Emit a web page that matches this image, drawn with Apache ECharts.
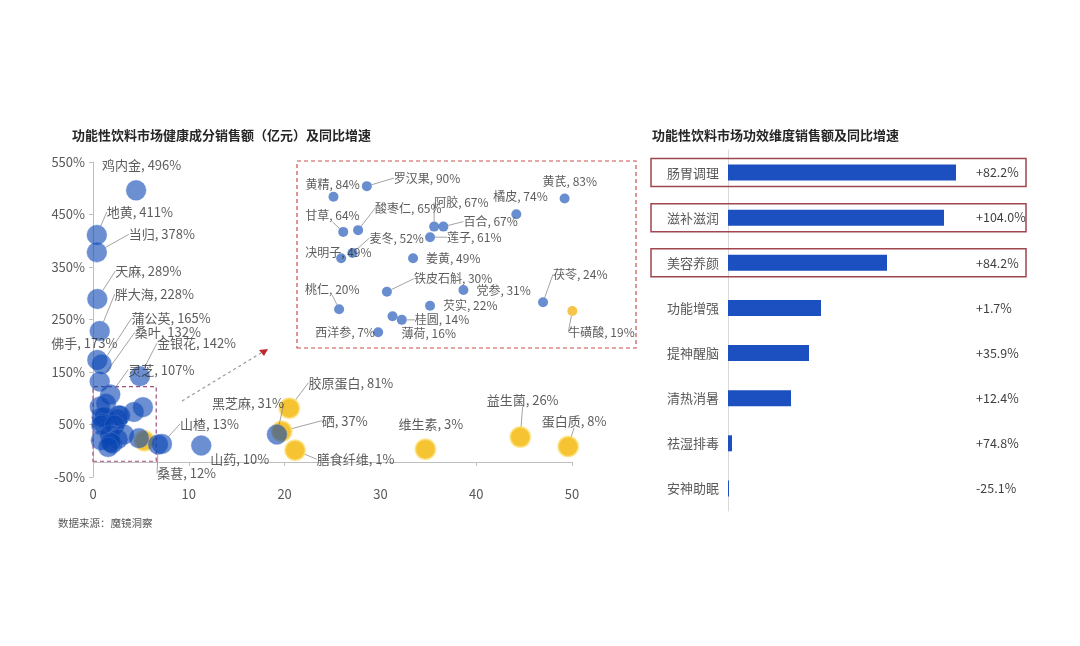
<!DOCTYPE html>
<html><head><meta charset="utf-8">
<script src="https://cdn.jsdelivr.net/npm/echarts@6/dist/echarts.min.js"></script>
<style>html,body{margin:0;padding:0;background:#fff}#c{width:1080px;height:646px}</style>
</head><body><div id="c"></div>
<script>
// ---------------- data ----------------
const herbNames  = ['鸡内金','地黄','当归','天麻','胖大海','佛手','蒲公英','桑叶','金银花','灵芝','山楂','桑葚','山药','黑芝麻',
  '黄精','罗汉果','黄芪','橘皮','甘草','酸枣仁','阿胶','百合','莲子','麦冬','决明子','姜黄','桃仁','铁皮石斛','党参','芡实','桂圆','薄荷','西洋参','茯苓'];
const herbSales  = [4.5,0.4,0.4,0.45,0.7,0.45,0.9,0.7,4.9,1.8,7.2,6.8,11.3,19.2,
  0.71,1.36,5.21,4.27,0.90,1.19,2.67,2.85,2.59,1.08,0.86,2.26,0.82,1.75,3.24,2.59,2.04,1.86,1.58,4.79];
const herbGrowth = [496,411,378,289,228,173,165,132,142,107,13,12,10,31,
  84,90,83,74,64,65,67,67,61,52,49,49,20,30,31,22,14,16,7,24];

const nutrientNames  = ['胶原蛋白','硒','膳食纤维','维生素','益生菌','蛋白质','牛磺酸'];
const nutrientSales  = [20.5,19.7,21.1,34.7,44.6,49.6,5.36];
const nutrientGrowth = [81,37,1,3,26,8,19];

// items shown enlarged in the dashed inset
const insetNames = ['黄精','罗汉果','黄芪','橘皮','甘草','酸枣仁','阿胶','百合','莲子','麦冬','决明子','姜黄','桃仁','铁皮石斛','党参','芡实','桂圆','薄荷','西洋参','茯苓','牛磺酸'];

const effectCategories = ['肠胃调理','滋补滋润','美容养颜','功能增强','提神醒脑','清热消暑','祛湿排毒','安神助眠'];
const effectSales  = [22.8,21.6,15.9,9.3,8.1,6.3,0.4,0.1];
const effectGrowth = [82.2,104.0,84.2,1.7,35.9,12.4,74.8,-25.1];
const highlightedEffects = ['肠胃调理','滋补滋润','美容养颜'];

// ---------------- label layout (offsets in px: dx, dy, leader) ----------------
const mainLabelPos = {
  '鸡内金':[-34,-25,0],'地黄':[10,-23,1],'当归':[32,-18,1],'天麻':[18,-28,1],'胖大海':[15,-37,1],
  '佛手':[-46,-17,0],'蒲公英':[30,-46,1],'桑叶':[35,-49,1],'金银花':[17,-33,1],'灵芝':[18,-25,1],
  '山楂':[18,-20,1],'桑葚':[-1,29,1],'山药':[9,14,0],'黑芝麻':[-65,-31,1],
  '胶原蛋白':[19,-25.5,1],'硒':[40,-10.6,1],'膳食纤维':[21.6,9,1],'维生素':[-27,-25,0],'益生菌':[-33.6,-37,1],'蛋白质':[-26.5,-25,1]
};
const insetLabelPos = {
  '黄精':[-28,-12,0],'罗汉果':[27,-8,1],'黄芪':[-22,-17,0],'橘皮':[-23,-18,0],'甘草':[-38,-16,1],
  '酸枣仁':[17,-22,1],'阿胶':[0,-24,1],'百合':[20,-5,1],'莲子':[17,0,1],'麦冬':[17,-15,1],
  '决明子':[-36,-6,0],'姜黄':[13,0,0],'桃仁':[-34,-20,1],'铁皮石斛':[27,-13,1],'党参':[13,0,0],
  '芡实':[13,0,0],'桂圆':[13,0,1],'薄荷':[9,17,0],'西洋参':[-63,0,1],'茯苓':[10,-28,1],'牛磺酸':[-4,21,1]
};

const FONT = '"Noto Sans CJK SC","Noto Sans",sans-serif';

function buildItems(names, xs, ys, filter, posMap) {
  const out = [];
  names.forEach((n, i) => {
    if (!filter(n)) return;
    const p = posMap[n];
    out.push({
      name: n, value: [xs[i], ys[i]],
      label: { show: !!p },
      labelLine: { show: !!(p && p[2]) }
    });
  });
  return out;
}
function makeLayout(items, posMap) {
  return function (prm) {
    const it = items[prm.dataIndex];
    const o = it && posMap[it.name];
    if (!o) return {};
    const cx = prm.rect.x + prm.rect.width / 2, cy = prm.rect.y + prm.rect.height / 2;
    return { x: cx + o[0], y: cy + o[1], align: 'left', verticalAlign: 'middle' };
  };
}
const labelFmt = p => p.name + ', ' + p.value[1] + '%';

const isInset = n => insetNames.indexOf(n) >= 0;
const mainHerbs = buildItems(herbNames, herbSales, herbGrowth, () => true, mainLabelPos);
const mainNutr  = buildItems(nutrientNames, nutrientSales, nutrientGrowth, () => true, mainLabelPos);
const insetHerbs = buildItems(herbNames, herbSales, herbGrowth, isInset, insetLabelPos);
const insetNutr  = buildItems(nutrientNames, nutrientSales, nutrientGrowth, isInset, insetLabelPos);

const lblLine = { show: true, lineStyle: { color: '#8c8c8c', width: 0.8 } };
const mainLabel = { show: true, position: 'inside', formatter: labelFmt, color: '#333', fontSize: 13, fontFamily: FONT };
const insetLabel = { show: true, position: 'inside', formatter: labelFmt, color: '#333', fontSize: 12, fontFamily: FONT };

const growthLabels = effectGrowth.map(g => (g >= 0 ? '+' : '') + g.toFixed(1) + '%');

const chart = echarts.init(document.getElementById('c'), null, { renderer: 'canvas' });
const option = {
  backgroundColor: '#fff',
  animation: false,
  textStyle: { fontFamily: FONT },
  grid: [
    { left: 93, top: 162, width: 479, height: 315 },
    { left: 297, top: 161, width: 339, height: 187 },
    { left: 728, top: 150, width: 240, height: 361 }
  ],
  xAxis: [
    { gridIndex: 0, type: 'value', position: 'bottom', min: 0, max: 50, interval: 10,
      axisLine: { show: false }, axisTick: { show: false }, splitLine: { show: false },
      axisLabel: { color: '#595959', fontSize: 13, margin: 11 } },
    { gridIndex: 0, type: 'value', position: 'bottom', min: 0, max: 50, interval: 10, offset: -15,
      axisLine: { show: true, onZero: false, lineStyle: { color: '#BFBFBF' } },
      axisTick: { show: true, length: 4, lineStyle: { color: '#BFBFBF' } },
      axisLabel: { show: false }, splitLine: { show: false } },
    { gridIndex: 1, type: 'value', min: 0, max: 6.6, show: false },
    { gridIndex: 2, type: 'value', min: 0, max: 24, show: false }
  ],
  yAxis: [
    { gridIndex: 0, type: 'value', min: -50, max: 550, interval: 100,
      axisLine: { show: true, lineStyle: { color: '#BFBFBF' } },
      axisTick: { show: true, length: 4, lineStyle: { color: '#BFBFBF' } },
      splitLine: { show: false },
      axisLabel: { formatter: '{value}%', color: '#595959', fontSize: 13, margin: 8 } },
    { gridIndex: 1, type: 'value', min: -2, max: 104.3, show: false },
    { gridIndex: 2, type: 'category', data: effectCategories, inverse: true,
      axisLine: { show: true, lineStyle: { color: '#D9D9D9' } }, axisTick: { show: false },
      axisLabel: { color: '#595959', fontSize: 13, margin: 9 } },
    { gridIndex: 2, type: 'category', data: growthLabels, inverse: true, position: 'right',
      axisLine: { show: false }, axisTick: { show: false },
      axisLabel: { color: '#404040', fontSize: 12.5, margin: 8, align: 'left' } }
  ],
  series: [
    { type: 'scatter', xAxisIndex: 0, yAxisIndex: 0, symbolSize: 20, z: 2,
      itemStyle: { color: '#F4B400', borderColor: 'rgba(252,222,110,0.8)', borderWidth: 2 },
      data: mainNutr, label: mainLabel, labelLine: lblLine, labelLayout: makeLayout(mainNutr, mainLabelPos) },
    { type: 'scatter', xAxisIndex: 0, yAxisIndex: 0, symbolSize: 20, z: 3,
      itemStyle: { color: 'rgba(8,68,178,0.75)', borderColor: 'rgba(90,130,215,0.5)', borderWidth: 0.8 },
      data: mainHerbs, label: mainLabel, labelLine: lblLine, labelLayout: makeLayout(mainHerbs, mainLabelPos),
      markArea: { silent: true,
        itemStyle: { color: 'rgba(0,0,0,0)', borderColor: '#A0507A', borderWidth: 1.2, borderType: [4, 3] },
        data: [[{ coord: [0, -20] }, { coord: [6.6, 122] }]] } },
    { type: 'scatter', xAxisIndex: 2, yAxisIndex: 1, symbolSize: 10, z: 2,
      itemStyle: { color: '#F2B51B' },
      data: insetNutr, label: insetLabel, labelLine: lblLine, labelLayout: makeLayout(insetNutr, insetLabelPos) },
    { type: 'scatter', xAxisIndex: 2, yAxisIndex: 1, symbolSize: 10, z: 3,
      itemStyle: { color: '#4472C4' },
      data: insetHerbs, label: insetLabel, labelLine: lblLine, labelLayout: makeLayout(insetHerbs, insetLabelPos),
      markArea: { silent: true,
        itemStyle: { color: 'rgba(0,0,0,0)', borderColor: '#C9514A', borderWidth: 1.2, borderType: [4, 3] },
        data: [[{ coord: [0, -2] }, { coord: [6.6, 104.3] }]] } },
    { type: 'bar', xAxisIndex: 3, yAxisIndex: 2, barWidth: 16, data: effectSales,
      itemStyle: { color: '#1C4FC0' } }
  ],
  graphic: [
    { type: 'text', left: 72, top: 129, style: { text: '功能性饮料市场健康成分销售额（亿元）及同比增速', font: 'bold 13px ' + FONT, fill: '#262626' } },
    { type: 'text', left: 652, top: 129, style: { text: '功能性饮料市场功效维度销售额及同比增速', font: 'bold 13px ' + FONT, fill: '#262626' } },
    { type: 'text', left: 58, top: 518, style: { text: '数据来源：魔镜洞察', font: '10.5px ' + FONT, fill: '#595959' } },
    { type: 'line', shape: { x1: 182, y1: 401, x2: 261, y2: 353 }, style: { stroke: '#9a9a9a', lineWidth: 1.2, lineDash: [3, 3] } },
    { type: 'polygon', shape: { points: [[268, 349], [259, 350], [264, 356]] }, style: { fill: '#C0282D' } }
  ]
};
chart.setOption(option);

// highlight frames around selected effect rows
const frames = highlightedEffects.map((name, i) => {
  const cy = chart.convertToPixel({ yAxisIndex: 2 }, name);
  return { type: 'rect', id: 'hl' + i, shape: { x: 651, y: cy - 14, width: 375, height: 28 },
    style: { fill: 'none', stroke: '#A0464F', lineWidth: 1.5 }, z: 10 };
});
chart.setOption({ graphic: frames });
</script></body></html>
